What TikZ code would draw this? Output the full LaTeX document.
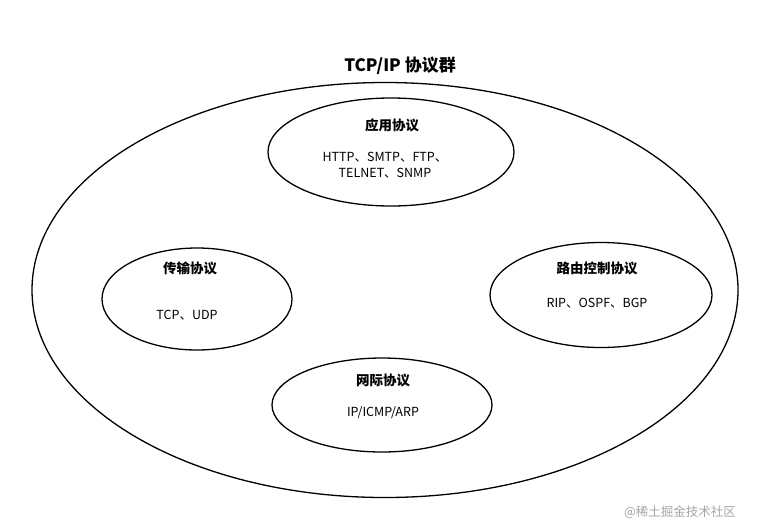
\documentclass[tikz,border=0pt]{standalone}
\usepackage{fontspec}
\setmainfont{Noto Sans CJK SC}
\usetikzlibrary{shapes.geometric}
\tikzset{
  oval/.style={draw=black, line width=1.3pt, ellipse, inner sep=0pt},
  ttl/.style={font=\fontsize{13.5}{15}\selectfont\bfseries},
  txt/.style={font=\fontsize{12.5}{16}\selectfont, align=center}
}
\begin{document}
\begin{tikzpicture}[x=1pt,y=-1pt]
\useasboundingbox[fill=white] (0,0) rectangle (768,528);
\node[oval, minimum width=706pt, minimum height=415pt] (all) at (385,290) {};
\node[font=\fontsize{17}{19}\selectfont\bfseries] (title) at (400,66) {TCP/IP 协议群};
\node[oval, minimum width=246pt, minimum height=108pt] (app) at (391,152) {};
\node[ttl] (appt) at (392,125) {应用协议};
\node[txt] (appx) at (385,165) {HTTP、SMTP、FTP、\\TELNET、SNMP};
\node[oval, minimum width=190pt, minimum height=102pt] (tr) at (197,299) {};
\node[ttl] (trt) at (190,268) {传输协议};
\node[txt] (trx) at (187,315) {TCP、UDP};
\node[oval, minimum width=222pt, minimum height=105pt] (rt) at (601,295) {};
\node[ttl] (rtt) at (597,268) {路由控制协议};
\node[txt] (rtx) at (597,303) {RIP、OSPF、BGP};
\node[oval, minimum width=220pt, minimum height=94pt] (ip) at (382,405) {};
\node[ttl] (ipt) at (383,380) {网际协议};
\node[txt] (ipx) at (383,413) {IP/ICMP/ARP};
\node[font=\fontsize{12.5}{14}\selectfont, text=gray!70] (wm) at (680,512) {@稀土掘金技术社区};
\end{tikzpicture}
\end{document}
